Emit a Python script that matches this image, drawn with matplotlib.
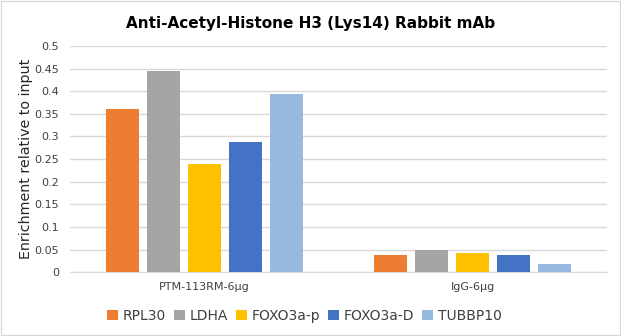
import matplotlib.pyplot as plt
import numpy as np
from matplotlib.patches import Rectangle

groups = ["PTM-113RM-6μg", "IgG-6μg"]
genes = ["RPL30", "LDHA", "FOXO3a-p", "FOXO3a-D", "TUBBP10"]
rpl30 = [0.361, 0.038]
ldha = [0.444, 0.048]
foxo3a_p = [0.239, 0.043]
foxo3a_d = [0.288, 0.038]
tubbp10 = [0.394, 0.018]
yticks = [0, 0.05, 0.1, 0.15, 0.2, 0.25, 0.3, 0.35, 0.4, 0.45, 0.5]

palette = ["#ED7D31", "#A5A5A5", "#FFC000", "#4472C4", "#98B9E0"]
series = [rpl30, ldha, foxo3a_p, foxo3a_d, tubbp10]

plt.rcParams["font.family"] = ["DejaVu Sans"]

fig = plt.figure(figsize=(6.21, 3.36), dpi=100)
ax = fig.add_axes([0.113, 0.190, 0.864, 0.673])

x = np.arange(len(groups))
step = 0.153
width = 0.123
for k, (vals, col, name) in enumerate(zip(series, palette, genes)):
    ax.bar(x + (k - 2) * step, vals, width=width, color=col, label=name, zorder=3)

ax.set_xlim(-0.5, 1.5)
ax.set_ylim(0, 0.5)
ax.set_yticks(yticks)
ax.set_yticklabels([f"{t:g}" for t in yticks], fontsize=8, color="#404040")
ax.set_xticks(x)
ax.set_xticklabels(groups, fontsize=8, color="#404040")
ax.tick_params(length=0, pad=8)
ax.tick_params(axis="x", pad=7)
ax.grid(axis="y", color="#D9D9D9", linewidth=1, zorder=0)
for side in ["top", "right", "left"]:
    ax.spines[side].set_visible(False)
ax.spines["bottom"].set_color("#D9D9D9")

ax.set_ylabel("Enrichment relative to input", fontsize=10.3, color="#262626", labelpad=1)
fig.text(0.5, 0.93, "Anti-Acetyl-Histone H3 (Lys14) Rabbit mAb",
         ha="center", va="center", fontsize=11, fontweight="bold", color="#000000")

fig.legend(loc="center", bbox_to_anchor=(0.49, 0.06), ncol=5, frameon=False,
           fontsize=10, handlelength=0.8, handleheight=0.8, handletextpad=0.3,
           columnspacing=0.6, labelcolor="#404040")

# light chart border
fig.patches.append(Rectangle((0.001, 0.002), 0.997, 0.995, transform=fig.transFigure,
                             fill=False, edgecolor="#D9D9D9", linewidth=1))

fig.savefig("out.png", dpi=100)
